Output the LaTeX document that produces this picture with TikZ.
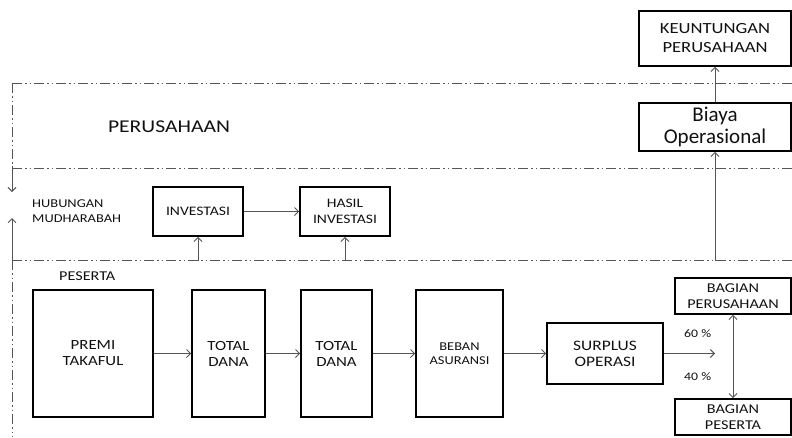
\documentclass[tikz,border=0pt]{standalone}
\usepackage{fontspec}
\setmainfont{Carlito}
\newfontfamily\wcap{Carlito}[FakeStretch=1.2]
\usetikzlibrary{arrows.meta}
\definecolor{linegray}{HTML}{555555}
\definecolor{txt}{HTML}{111111}
\tikzset{
  boxnode/.style={draw=black, line width=1.6pt, rectangle, align=center, text=txt, inner sep=1pt},
  flow/.style={draw=linegray, line width=1pt, -{Straight Barb[length=4pt,width=8pt]}},
  dflow/.style={draw=linegray, line width=1pt, {Straight Barb[length=4pt,width=8pt]}-{Straight Barb[length=4pt,width=8pt]}},
  zone/.style={draw=linegray, line width=1pt, dash pattern=on 10pt off 3pt on 1.5pt off 3pt on 1.5pt off 3pt},
  lbl/.style={text=txt, inner sep=0pt},
}
\begin{document}
\begin{tikzpicture}[x=1pt,y=-1pt]
\useasboundingbox (0,0) rectangle (792,437);

% zone lines
\coordinate (tl) at (12,83);
\coordinate (tr) at (792,83);
\coordinate (ml) at (12,168);
\coordinate (mr) at (792,168);
\coordinate (ll) at (12,260);
\coordinate (lr) at (792,260);
\coordinate (bl) at (12,437);
\draw[zone] (tl) -- (tr);
\draw[zone] (ml) -- (mr);
\draw[zone] (ll) -- (lr);
\draw[zone] (tl) -- (ml);
\draw[zone] (ll) -- (bl);

% left arrows
\coordinate (ld1) at (12,166);
\coordinate (ld2) at (12,192);
\coordinate (lu1) at (12,262);
\coordinate (lu2) at (12,218);
\draw[flow] (ld1) -- (ld2);
\draw[flow] (lu1) -- (lu2);

% labels
\node[lbl, font={\wcap\fontsize{18}{20}\selectfont}] (perus) at (169,127) {PERUSAHAAN};
\node[lbl, anchor=west, align=left, font={\wcap\fontsize{12}{15}\selectfont}] (hub) at (32,211) {HUBUNGAN\\MUDHARABAH};
\node[lbl, anchor=west, font={\wcap\fontsize{13.5}{14}\selectfont}] (pes) at (59,276) {PESERTA};
\node[lbl, anchor=west, font={\wcap\fontsize{11.5}{12}\selectfont}] (p60) at (684,334) {60 \%};
\node[lbl, anchor=west, font={\wcap\fontsize{11.5}{12}\selectfont}] (p40) at (684,377) {40 \%};

% boxes
\node[boxnode, minimum width=152pt, minimum height=55pt, font={\wcap\fontsize{15.5}{19}\selectfont}] (keu) at (715,38.5) {KEUNTUNGAN\\PERUSAHAAN};
\node[boxnode, minimum width=152pt, minimum height=48pt, font={\fontsize{21}{22}\selectfont}] (biaya) at (715,127) {Biaya\\Operasional};
\node[boxnode, minimum width=90pt, minimum height=49pt, font={\wcap\fontsize{13}{15}\selectfont}] (inv) at (198,211.5) {INVESTASI};
\node[boxnode, minimum width=90pt, minimum height=49pt, font={\wcap\fontsize{13}{16}\selectfont}] (hasil) at (345,211.5) {HASIL\\INVESTASI};
\node[boxnode, minimum width=120pt, minimum height=127pt, font={\wcap\fontsize{14}{16}\selectfont}] (premi) at (93,353.5) {PREMI\\TAKAFUL};
\node[boxnode, minimum width=73pt, minimum height=127pt, font={\wcap\fontsize{14}{16}\selectfont}] (td1) at (228.5,353.5) {TOTAL\\DANA};
\node[boxnode, minimum width=71pt, minimum height=127pt, font={\wcap\fontsize{14}{16}\selectfont}] (td2) at (336.5,353.5) {TOTAL\\DANA};
\node[boxnode, minimum width=87pt, minimum height=127pt, font={\wcap\fontsize{12}{14}\selectfont}] (beban) at (459.5,353.5) {BEBAN\\ASURANSI};
\node[boxnode, minimum width=116pt, minimum height=61pt, font={\wcap\fontsize{14.5}{16}\selectfont}] (surplus) at (605,353.5) {SURPLUS\\OPERASI};
\node[boxnode, minimum width=116pt, minimum height=36pt, font={\wcap\fontsize{13.5}{15.5}\selectfont}] (bp) at (733,296) {BAGIAN\\PERUSAHAAN};
\node[boxnode, minimum width=116pt, minimum height=36pt, font={\wcap\fontsize{13.5}{15.5}\selectfont}] (bps) at (733,417) {BAGIAN\\PESERTA};

% connectors
\coordinate (invin) at (198,261);
\coordinate (hasin) at (345,261);
\coordinate (biayain) at (715,261);
\coordinate (split) at (715,353.5);
\draw[flow] (invin) -- (inv.south);
\draw[flow] (hasin) -- (hasil.south);
\draw[flow] (inv.east) -- (hasil.west);
\draw[flow] (biayain) -- (biaya.south);
\draw[flow] (biaya.north) -- (keu.south);
\draw[flow] (premi.east) -- (td1.west);
\draw[flow] (td1.east) -- (td2.west);
\draw[flow] (td2.east) -- (beban.west);
\draw[flow] (beban.east) -- (surplus.west);
\draw[flow] (surplus.east) -- (split);
\draw[dflow] (bp.south) -- (bps.north);
\end{tikzpicture}
\end{document}
